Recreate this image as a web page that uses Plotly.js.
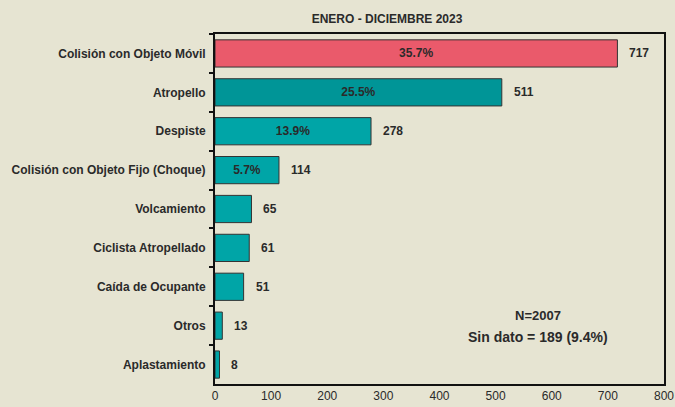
<!DOCTYPE html>
<html>
<head>
<meta charset="utf-8">
<script src="https://cdn.plot.ly/plotly-3.0.1.min.js"></script>
<style>html,body{margin:0;padding:0;background:#E6E4D2;}#chart{width:675px;height:407px;}</style>
</head>
<body>
<div id="chart"></div>
<script>
const categories = ["Colisión con Objeto Móvil","Atropello","Despiste","Colisión con Objeto Fijo (Choque)","Volcamiento","Ciclista Atropellado","Caída de Ocupante","Otros","Aplastamiento"];
const values = [717, 511, 278, 114, 65, 61, 51, 13, 8];
const percentLabels = ["35.7%","25.5%","13.9%","5.7%","","","","",""];
const barColors = ["#EA5A6B","#009597","#00A5A7","#00A5A7","#00A5A7","#00A5A7","#00A5A7","#00A5A7","#00A5A7"];
const titleText = "ENERO - DICIEMBRE 2023";
const noteLines = ["N=2007","Sin dato = 189 (9.4%)"];

const trace = {
  type: "bar",
  orientation: "h",
  y: categories,
  x: values,
  text: percentLabels,
  textposition: "inside",
  insidetextanchor: "middle",
  textfont: {family: "Liberation Sans, Arial, sans-serif", size: 12, color: "#2a2a2a", weight: "bold"},
  marker: {color: barColors, line: {color: "#333333", width: 1}},
  width: 0.7,
  hoverinfo: "none"
};

const annotations = values.map((v, i) => ({
  x: v, y: categories[i], xref: "x", yref: "y",
  text: "<b>" + v + "</b>", showarrow: false,
  xanchor: "left", xshift: 10,
  font: {family: "Liberation Sans, Arial, sans-serif", size: 12, color: "#2a2a2a"}
}));
// note centered at pixel x≈538 within plot area spanning 215..664
const noteX = (538 - 215) / 449;
annotations.push({
  x: noteX, y: (384 - 315) / 350, xref: "paper", yref: "paper", showarrow: false,
  xanchor: "center", yanchor: "middle",
  text: "<b>" + noteLines[0] + "</b>",
  font: {family: "Liberation Sans, Arial, sans-serif", size: 13, color: "#2a2a2a"}
});
annotations.push({
  x: noteX, y: (384 - 337) / 350, xref: "paper", yref: "paper", showarrow: false,
  xanchor: "center", yanchor: "middle",
  text: "<b>" + noteLines[1] + "</b>",
  font: {family: "Liberation Sans, Arial, sans-serif", size: 14, color: "#2a2a2a"}
});

const layout = {
  width: 675, height: 407,
  paper_bgcolor: "#E6E4D2",
  plot_bgcolor: "#E6E4D2",
  margin: {l: 215, r: 11, t: 34, b: 23},
  showlegend: false,
  title: {
    text: "<b>" + titleText + "</b>",
    x: 387/675, xanchor: "center", y: 1 - 19/407, yanchor: "middle",
    font: {family: "Liberation Sans, Arial, sans-serif", size: 12, color: "#2a2a2a"}
  },
  xaxis: {
    range: [0, 800], dtick: 100, tick0: 0,
    showgrid: false, zeroline: false,
    showline: true, linecolor: "#111", linewidth: 2, mirror: true,
    ticks: "", tickfont: {family: "Liberation Sans, Arial, sans-serif", size: 12, color: "#2a2a2a"},
    fixedrange: true
  },
  yaxis: {
    type: "category", autorange: "reversed",
    showgrid: false, zeroline: false,
    showline: true, linecolor: "#111", linewidth: 2, mirror: true,
    ticks: "outside", tickson: "boundaries", ticklen: 4, tickwidth: 2, tickcolor: "#111",
    ticklabelstandoff: 5,
    tickfont: {family: "Liberation Sans, Arial, sans-serif", size: 12, color: "#2a2a2a", weight: "bold"},
    fixedrange: true
  },
  annotations: annotations
};

Plotly.newPlot("chart", [trace], layout, {displayModeBar: false, staticPlot: true});
</script>
</body>
</html>
